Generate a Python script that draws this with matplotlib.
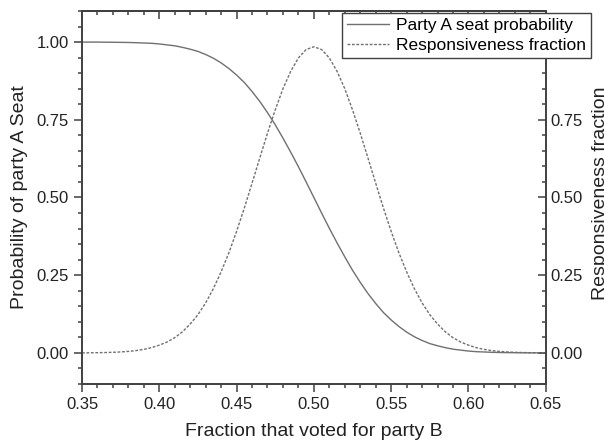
import matplotlib
matplotlib.use("Agg")
import matplotlib.pyplot as plt
from matplotlib.ticker import MultipleLocator, FormatStrFormatter

plt.rcParams['font.family'] = ['Liberation Sans', 'DejaVu Sans']

# values
vote_b = [0.350, 0.355, 0.360, 0.365, 0.370, 0.375, 0.380, 0.385, 0.390, 0.395,
          0.400, 0.405, 0.410, 0.415, 0.420, 0.425, 0.430, 0.435, 0.440, 0.445,
          0.450, 0.455, 0.460, 0.465, 0.470, 0.475, 0.480, 0.485, 0.490, 0.495,
          0.500, 0.505, 0.510, 0.515, 0.520, 0.525, 0.530, 0.535, 0.540, 0.545,
          0.550, 0.555, 0.560, 0.565, 0.570, 0.575, 0.580, 0.585, 0.590, 0.595,
          0.600, 0.605, 0.610, 0.615, 0.620, 0.625, 0.630, 0.635, 0.640, 0.645,
          0.650]

seat_prob = [1.000, 1.000, 1.000, 0.9996, 0.9994, 0.9991, 0.9987, 0.998, 0.997, 0.996,
             0.994, 0.991, 0.988, 0.983, 0.977, 0.970, 0.960, 0.948, 0.933, 0.915,
             0.894, 0.870, 0.841, 0.809, 0.773, 0.734, 0.691, 0.646, 0.599, 0.550,
             0.500, 0.450, 0.401, 0.354, 0.309, 0.266, 0.227, 0.191, 0.159, 0.130,
             0.106, 0.085, 0.067, 0.052, 0.040, 0.030, 0.023, 0.017, 0.012, 0.009,
             0.006, 0.004, 0.003, 0.002, 0.0013, 0.0009, 0.0006, 0.0004, 0.0002, 0.0001,
             0.000]

responsiveness = [0.000, 0.0004, 0.0007, 0.0012, 0.0019, 0.0031, 0.0049, 0.0075, 0.0114, 0.017,
                  0.025, 0.035, 0.049, 0.068, 0.093, 0.123, 0.161, 0.207, 0.261, 0.322,
                  0.391, 0.466, 0.546, 0.627, 0.707, 0.782, 0.850, 0.906, 0.949, 0.976,
                  0.985, 0.976, 0.949, 0.906, 0.850, 0.782, 0.707, 0.627, 0.546, 0.466,
                  0.391, 0.322, 0.261, 0.207, 0.161, 0.123, 0.093, 0.068, 0.049, 0.035,
                  0.025, 0.017, 0.0114, 0.0075, 0.0049, 0.0031, 0.0019, 0.0012, 0.0007, 0.0004,
                  0.000]

line_col = '#707070'
spine_col = '#404040'
text_col = '#222222'

fig = plt.figure(figsize=(6.04, 4.45), dpi=100)
ax = fig.add_axes([0.1358, 0.1371, 0.7677, 0.8382])
ax2 = ax.twinx()

l1, = ax.plot(vote_b, seat_prob, color=line_col, lw=1.0, label='Party A seat probability')
l2, = ax2.plot(vote_b, responsiveness, color=line_col, lw=1.0, linestyle=(0, (2, 1.2)),
               label='Responsiveness fraction')

for a in (ax, ax2):
    a.set_xlim(0.35, 0.65)
    a.set_ylim(-0.1, 1.1)
    a.yaxis.set_major_locator(MultipleLocator(0.25))
    a.yaxis.set_minor_locator(MultipleLocator(0.05))
    a.yaxis.set_major_formatter(FormatStrFormatter('%.2f'))
    for s in a.spines.values():
        s.set_color(spine_col)
        s.set_linewidth(1.2)

ax.xaxis.set_major_locator(MultipleLocator(0.05))
ax.xaxis.set_minor_locator(MultipleLocator(0.01))
ax.xaxis.set_major_formatter(FormatStrFormatter('%.2f'))

ax.tick_params(which='both', direction='out', colors=spine_col, labelcolor=text_col,
               labelsize=12, width=1.1)
ax.tick_params(which='major', length=6)
ax.tick_params(which='minor', length=3)
ax2.tick_params(which='both', direction='in', colors=spine_col, labelcolor=text_col,
                labelsize=12, width=1.1)
ax2.tick_params(which='major', length=6)
ax2.tick_params(which='minor', length=3)

# top axis ticks point inward
top = ax.secondary_xaxis('top')
top.xaxis.set_major_locator(MultipleLocator(0.05))
top.xaxis.set_minor_locator(MultipleLocator(0.01))
top.tick_params(which='both', direction='in', labeltop=False, colors=spine_col, width=1.1)
top.tick_params(which='major', length=6)
top.tick_params(which='minor', length=3)
top.spines['top'].set_color(spine_col)
top.spines['top'].set_linewidth(1.2)

ax.set_xlabel('Fraction that voted for party B', fontsize=14, color=text_col, labelpad=8)
ax.set_ylabel('Probability of party A Seat', fontsize=14, color=text_col)
ax2.set_ylabel('Responsiveness fraction', fontsize=14, color=text_col)
ax.yaxis.set_label_coords(-0.1165, 0.5)
ax2.yaxis.set_label_coords(1.0998, 0.512)

leg = fig.legend(handles=[l1, l2], loc='upper right', bbox_to_anchor=(591 / 604, 1 - 13 / 445),
                 fontsize=12.5, frameon=True, fancybox=False, framealpha=1,
                 edgecolor=spine_col, borderaxespad=0, handlelength=2.4,
                 borderpad=0.3, labelspacing=0.25, handletextpad=0.4)
leg.get_frame().set_linewidth(1.0)

fig.savefig('out.png', dpi=100)
